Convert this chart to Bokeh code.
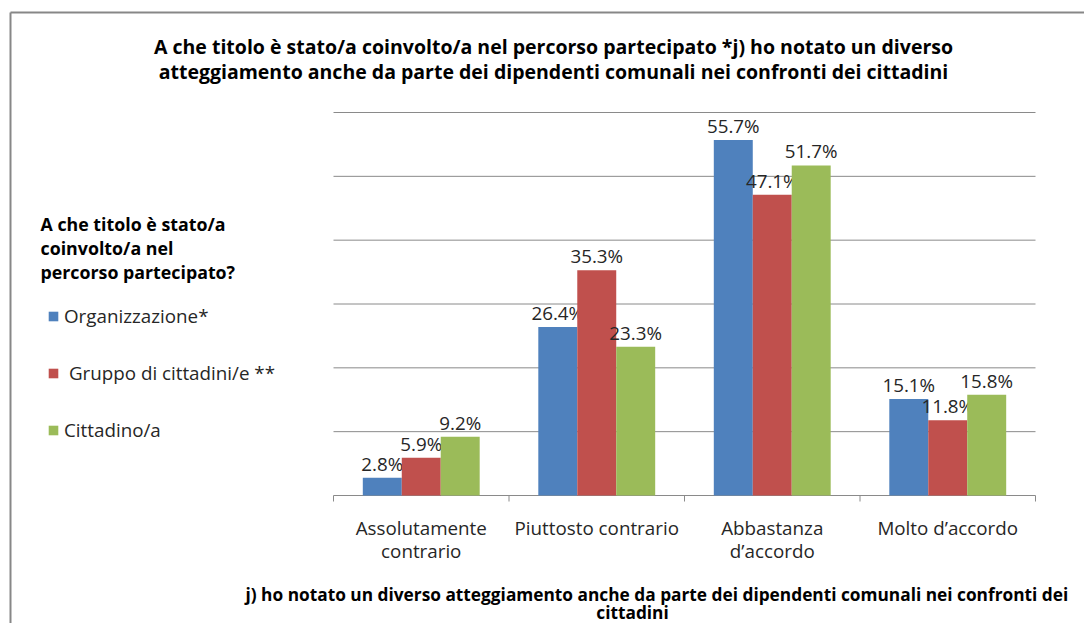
from bokeh.plotting import figure
from bokeh.models import ColumnDataSource, Range1d, Legend, LegendItem
from bokeh.core.properties import value
from bokeh.embed import file_html
from bokeh.resources import INLINE

# ---------------- data ----------------
categories = ["Assolutamente\ncontrario", "Piuttosto contrario",
              "Abbastanza\nd\u2019accordo", "Molto d\u2019accordo"]
series_names = ["Organizzazione*", " Gruppo di cittadini/e **", "Cittadino/a"]
organizzazione = [2.8, 26.4, 55.7, 15.1]
gruppo = [5.9, 35.3, 47.1, 11.8]
cittadino = [9.2, 23.3, 51.7, 15.8]
colors = ["#4F81BD", "#C0504D", "#9BBB59"]
grid_ticks = [0, 10, 20, 30, 40, 50, 60]

title_lines = ["A che titolo \u00e8 stato/a coinvolto/a nel percorso partecipato *j) ho notato un diverso",
               "atteggiamento anche da parte dei dipendenti comunali nei confronti dei cittadini"]
legend_title_lines = ["A che titolo \u00e8 stato/a", "coinvolto/a nel", "percorso partecipato?"]
xtitle_lines = ["j) ho notato un diverso atteggiamento anche da parte dei dipendenti comunali nei confronti dei",
                "cittadini"]

# ---------------- layout (pixels) ----------------
W, H = 1084, 623
PL, PR, PB, PT = 333, 1035, 495, 112   # plot area in canvas pixels
NCAT = len(categories)
YMAX = 60
SX = (PR - PL) / NCAT      # px per category unit
SY = (PB - PT) / YMAX      # px per percent


def px2x(px):
    return (px - PL) / SX


def px2y(py):
    return (PB - py) / SY


FONT = "Open Sans"
FS = "18.8px"
FS_TITLE = "19.5px"
FS_BOLD = "17.8px"
FS_XTITLE = "17.3px"
TXT = "#262626"
GRID = "#8a8a8a"

p = figure(width=W, height=H, x_range=Range1d(px2x(0), px2x(W)), y_range=Range1d(px2y(H), px2y(0)),
           output_backend="svg", toolbar_location=None,
           x_axis_location=None, y_axis_location=None, min_border=0)
p.title.visible = False
p.outline_line_color = None
p.background_fill_color = "white"
p.border_fill_color = "white"
p.xgrid.visible = False
p.ygrid.visible = False

# gridlines (horizontal, only across the plot area) and category axis
p.segment(x0=[0] * len(grid_ticks), x1=[NCAT] * len(grid_ticks), y0=grid_ticks, y1=grid_ticks,
          line_color=GRID, line_width=1)
bounds = list(range(NCAT + 1))
p.segment(x0=bounds, x1=bounds, y0=[0] * len(bounds), y1=[-6 / SY] * len(bounds),
          line_color=GRID, line_width=1)

# bars
bar_w = 0.222
offsets = [-bar_w, 0.0, bar_w]
renderers = []
for vals, off, col in zip([organizzazione, gruppo, cittadino], offsets, colors):
    src = ColumnDataSource(dict(
        x=[i + 0.5 + off for i in range(NCAT)],
        top=vals,
        label=[f"{v:.1f}%" for v in vals],
    ))
    r = p.vbar(x="x", top="top", width=bar_w, source=src, fill_color=col, line_color=None)
    renderers.append(r)
    p.text(x="x", y="top", text="label", source=src, text_align="center",
           text_baseline="alphabetic", y_offset=-14, text_font=value(FONT),
           text_font_size=FS, text_color=TXT)

# category labels (one row per text line)
cx, cy, ct = [], [], []
for i, cat in enumerate(categories):
    for j, line in enumerate(cat.split("\n")):
        cx.append(i + 0.5)
        cy.append(px2y(527 + 23 * j))
        ct.append(line)
p.text(x=cx, y=cy, text=ct, text_align="center", text_baseline="alphabetic",
       text_font=value(FONT), text_font_size=FS, text_color=TXT)


def bold_text(xpx, ypx, lines, align, step, size):
    p.text(x=[px2x(xpx)] * len(lines), y=[px2y(ypx + step * k) for k in range(len(lines))],
           text=lines, text_align=align, text_baseline="alphabetic",
           text_font=value(FONT), text_font_size=size, text_font_style="bold", text_color="black")


bold_text(553, 46, title_lines, "center", 25, FS_TITLE)
bold_text(40, 223, legend_title_lines, "left", 24, FS_BOLD)
bold_text(245, 594, xtitle_lines[:1], "left", 0, FS_XTITLE)
bold_text(632, 612, xtitle_lines[1:], "center", 0, FS_XTITLE)

# legend
legend = Legend(items=[LegendItem(label=n, renderers=[r]) for n, r in zip(series_names, renderers)],
                location=(47, H - 445), glyph_width=12, glyph_height=12, label_standoff=5,
                spacing=27, label_height=30, padding=0, margin=0,
                border_line_color=None, background_fill_alpha=0,
                label_text_font=FONT, label_text_font_size=FS, label_text_color=TXT)
p.add_layout(legend)

# chart-area border (left and top edges)
p.segment(x0=[px2x(10), px2x(10)], x1=[px2x(10), px2x(W + 10)],
          y0=[px2y(12), px2y(12)], y1=[px2y(H + 10), px2y(12)],
          line_color="#878787", line_width=2)

open("out.html", "w").write(file_html(p, INLINE))
